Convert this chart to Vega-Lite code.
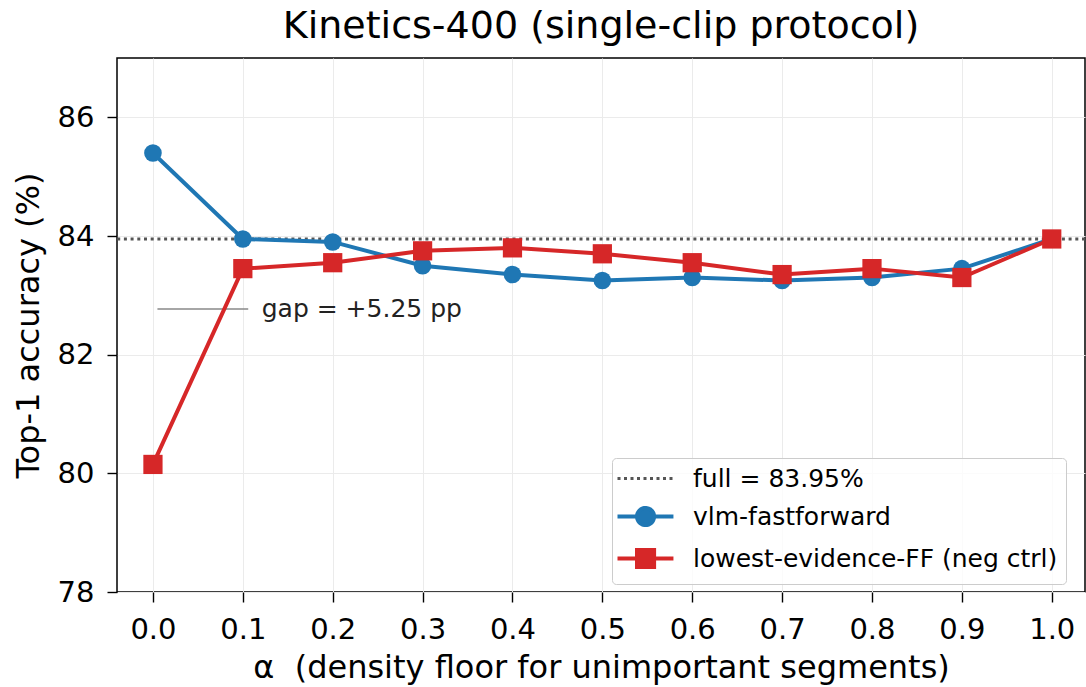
{
  "$schema": "https://vega.github.io/schema/vega-lite/v6.json",
  "width": 968,
  "height": 534,
  "autosize": {"type": "none"},
  "padding": {"left": 117, "top": 58, "right": 1, "bottom": 95},
  "background": "white",
  "config": {
    "font": "DejaVu Sans",
    "view": {"stroke": "black", "strokeWidth": 1.5},
    "axis": {
      "labelFont": "DejaVu Sans",
      "labelFontSize": 29,
      "labelColor": "black",
      "titleFont": "DejaVu Sans",
      "titleFontSize": 32,
      "titleFontWeight": "normal",
      "titleColor": "black",
      "tickColor": "black",
      "tickSize": 10,
      "tickWidth": 1.4,
      "domain": false,
      "gridColor": "#ebebeb",
      "gridWidth": 1,
      "labelPadding": 13
    },
    "legend": {
      "orient": "none",
      "legendX": 495,
      "legendY": 400,
      "title": null,
      "labelFontSize": 25,
      "labelFont": "DejaVu Sans",
      "labelColor": "black",
      "labelLimit": 600,
      "padding": 8,
      "rowPadding": 7,
      "labelOffset": 48,
      "symbolSize": 900,
      "strokeColor": "#cccccc",
      "fillColor": "rgba(255,255,255,0.8)",
      "cornerRadius": 4
    }
  },
  "title": {
    "text": "Kinetics-400 (single-clip protocol)",
    "fontSize": 38,
    "fontWeight": "normal",
    "font": "DejaVu Sans",
    "color": "black",
    "offset": 12
  },
  "datasets": {
    "main": [
      {"alpha": 0.0, "acc": 85.4, "series": "vlm-fastforward"},
      {"alpha": 0.1, "acc": 83.95, "series": "vlm-fastforward"},
      {"alpha": 0.2, "acc": 83.9, "series": "vlm-fastforward"},
      {"alpha": 0.3, "acc": 83.5, "series": "vlm-fastforward"},
      {"alpha": 0.4, "acc": 83.35, "series": "vlm-fastforward"},
      {"alpha": 0.5, "acc": 83.25, "series": "vlm-fastforward"},
      {"alpha": 0.6, "acc": 83.3, "series": "vlm-fastforward"},
      {"alpha": 0.7, "acc": 83.25, "series": "vlm-fastforward"},
      {"alpha": 0.8, "acc": 83.3, "series": "vlm-fastforward"},
      {"alpha": 0.9, "acc": 83.45, "series": "vlm-fastforward"},
      {"alpha": 1.0, "acc": 83.95, "series": "vlm-fastforward"},
      {"alpha": 0.0, "acc": 80.15, "series": "lowest-evidence-FF (neg ctrl)"},
      {"alpha": 0.1, "acc": 83.45, "series": "lowest-evidence-FF (neg ctrl)"},
      {"alpha": 0.2, "acc": 83.55, "series": "lowest-evidence-FF (neg ctrl)"},
      {"alpha": 0.3, "acc": 83.75, "series": "lowest-evidence-FF (neg ctrl)"},
      {"alpha": 0.4, "acc": 83.8, "series": "lowest-evidence-FF (neg ctrl)"},
      {"alpha": 0.5, "acc": 83.7, "series": "lowest-evidence-FF (neg ctrl)"},
      {"alpha": 0.6, "acc": 83.55, "series": "lowest-evidence-FF (neg ctrl)"},
      {"alpha": 0.7, "acc": 83.35, "series": "lowest-evidence-FF (neg ctrl)"},
      {"alpha": 0.8, "acc": 83.45, "series": "lowest-evidence-FF (neg ctrl)"},
      {"alpha": 0.9, "acc": 83.3, "series": "lowest-evidence-FF (neg ctrl)"},
      {"alpha": 1.0, "acc": 83.95, "series": "lowest-evidence-FF (neg ctrl)"}
    ]
  },
  "layer": [
    {
      "data": {"values": [{"full": 83.95}]},
      "mark": {"type": "rule", "stroke": "#555555", "strokeWidth": 3, "strokeDash": [3, 3.7]},
      "encoding": {
        "y": {"field": "full", "type": "quantitative", "scale": {"domain": [78, 87]}}
      }
    },
    {
      "data": {"values": [{"x1": 0.005, "x2": 0.106, "y": 82.77}]},
      "mark": {"type": "rule", "stroke": "#888888", "strokeWidth": 1.5},
      "encoding": {
        "x": {"field": "x1", "type": "quantitative", "scale": {"domain": [-0.04, 1.037]}},
        "x2": {"field": "x2"},
        "y": {"field": "y", "type": "quantitative", "scale": {"domain": [78, 87]}}
      }
    },
    {
      "data": {"values": [{"x": 0.121, "y": 82.77, "label": "gap = +5.25 pp"}]},
      "mark": {"type": "text", "align": "left", "baseline": "middle", "fontSize": 25, "color": "#222222", "font": "DejaVu Sans"},
      "encoding": {
        "x": {"field": "x", "type": "quantitative", "scale": {"domain": [-0.04, 1.037]}},
        "y": {"field": "y", "type": "quantitative", "scale": {"domain": [78, 87]}},
        "text": {"field": "label"}
      }
    },
    {
      "data": {"name": "main"},
      "mark": {"type": "line", "strokeWidth": 4},
      "encoding": {
        "x": {"field": "alpha", "type": "quantitative", "scale": {"domain": [-0.04, 1.037]}},
        "y": {"field": "acc", "type": "quantitative", "scale": {"domain": [78, 87]}},
        "color": {
          "field": "series",
          "type": "nominal",
          "scale": {
            "domain": ["full = 83.95%", "vlm-fastforward", "lowest-evidence-FF (neg ctrl)"],
            "range": ["#555555", "#1f77b4", "#d62728"]
          },
          "legend": {
            "encode": {
              "symbols": {
                "update": {
                  "shape": {"signal": "datum.value === 'vlm-fastforward' ? 'M-1,0H0.3M1.44,0H2.73M0.3,0A0.57,0.57,0,1,1,1.44,0A0.57,0.57,0,1,1,0.3,0Z' : (datum.value === 'full = 83.95%' ? 'M-1,0H2.73' : 'M-1,0H0.3M1.44,0H2.73M0.3,-0.57H1.44V0.57H0.3Z')"},
                  "fill": {"scale": "color", "field": "value"},
                  "stroke": {"scale": "color", "field": "value"},
                  "strokeWidth": {"signal": "datum.value === 'full = 83.95%' ? 3 : 4"},
                  "strokeDash": {"signal": "datum.value === 'full = 83.95%' ? [3, 3.5] : [1, 0]"},
                  "size": {"value": 900},
                  "opacity": {"value": 1}
                }
              }
            }
          }
        }
      }
    },
    {
      "data": {"name": "main"},
      "mark": {"type": "point", "filled": true, "opacity": 1},
      "encoding": {
        "x": {
          "field": "alpha",
          "type": "quantitative",
          "scale": {"domain": [-0.04, 1.037]},
          "axis": {
            "values": [0, 0.1, 0.2, 0.3, 0.4, 0.5, 0.6, 0.7, 0.8, 0.9, 1.0],
            "format": ".1f",
            "title": "α\u00a0 (density floor for unimportant segments)",
            "titlePadding": 8
          }
        },
        "y": {
          "field": "acc",
          "type": "quantitative",
          "scale": {"domain": [78, 87]},
          "axis": {
            "values": [78, 80, 82, 84, 86],
            "format": "d",
            "title": "Top-1 accuracy (%)",
            "titlePadding": 12
          }
        },
        "shape": {
          "field": "series",
          "type": "nominal",
          "scale": {"domain": ["vlm-fastforward", "lowest-evidence-FF (neg ctrl)"], "range": ["circle", "square"]},
          "legend": null
        },
        "size": {
          "field": "series",
          "type": "nominal",
          "scale": {"domain": ["vlm-fastforward", "lowest-evidence-FF (neg ctrl)"], "range": [310, 370]},
          "legend": null
        },
        "color": {
          "field": "series",
          "type": "nominal",
          "scale": {
            "domain": ["full = 83.95%", "vlm-fastforward", "lowest-evidence-FF (neg ctrl)"],
            "range": ["#555555", "#1f77b4", "#d62728"]
          },
          "legend": {
            "encode": {
              "symbols": {
                "update": {
                  "shape": {"signal": "datum.value === 'vlm-fastforward' ? 'M-1,0H0.3M1.44,0H2.73M0.3,0A0.57,0.57,0,1,1,1.44,0A0.57,0.57,0,1,1,0.3,0Z' : (datum.value === 'full = 83.95%' ? 'M-1,0H2.73' : 'M-1,0H0.3M1.44,0H2.73M0.3,-0.57H1.44V0.57H0.3Z')"},
                  "fill": {"scale": "color", "field": "value"},
                  "stroke": {"scale": "color", "field": "value"},
                  "strokeWidth": {"signal": "datum.value === 'full = 83.95%' ? 3 : 4"},
                  "strokeDash": {"signal": "datum.value === 'full = 83.95%' ? [3, 3.5] : [1, 0]"},
                  "size": {"value": 900},
                  "opacity": {"value": 1}
                }
              }
            }
          }
        }
      }
    }
  ]
}
